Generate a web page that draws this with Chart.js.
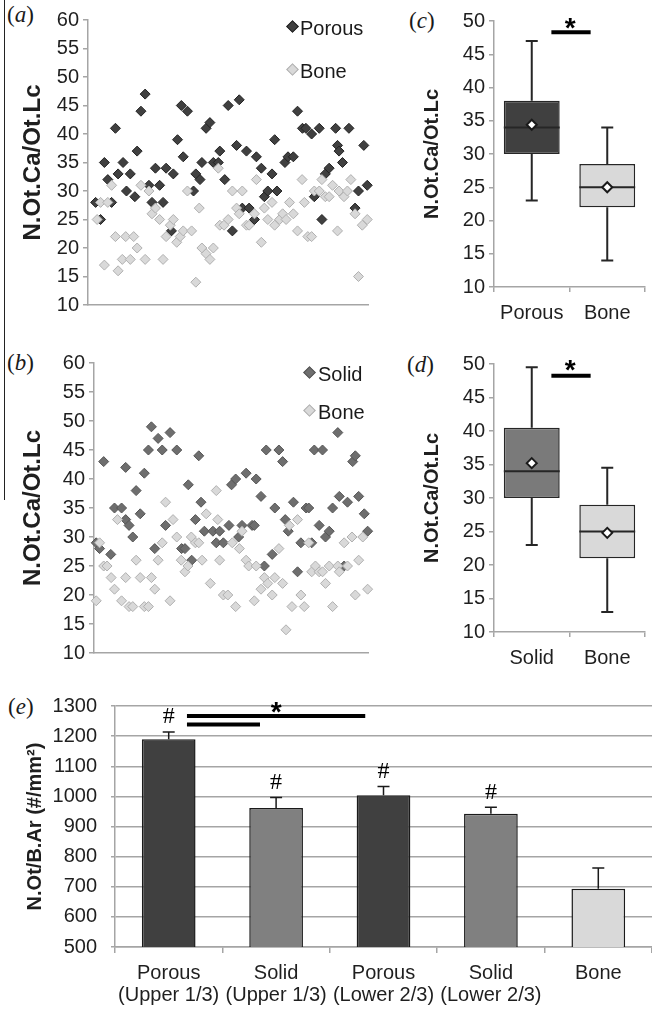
<!DOCTYPE html>
<html>
<head>
<meta charset="utf-8">
<script src="https://cdn.jsdelivr.net/npm/chart.js@4.4.0/dist/chart.umd.min.js"></script>
<style>
  body { margin: 0; background: #fff; width: 652px; height: 1012px; position: relative; overflow: hidden;
         font-family: "Liberation Sans", Arial, sans-serif; color: #1a1a1a; }
  .box { position: absolute; }
  .lab { position: absolute; font-family: "Liberation Serif", "Times New Roman", serif; font-size: 23px; line-height: 24px; }
  .leg { position: absolute; font-size: 20px; line-height: 24px; white-space: nowrap; }
  .dia { position: absolute; width: 7px; height: 7px; transform: rotate(45deg); border: 1px solid; }
  .vline { position: absolute; left: 4px; top: 0; width: 1px; height: 500px; background: #222; }
</style>
</head>
<body>
<div class="vline"></div>

<div class="lab" style="left:7px;top:3px">(<i>a</i>)</div>
<div class="lab" style="left:7px;top:351px">(<i>b</i>)</div>
<div class="lab" style="left:409px;top:9px">(<i>c</i>)</div>
<div class="lab" style="left:407px;top:353px">(<i>d</i>)</div>
<div class="lab" style="left:8px;top:695px">(<i>e</i>)</div>

<div class="box" style="left:14px;top:0;width:360px;height:321px"><canvas id="chartA"></canvas></div>
<div class="box" style="left:14px;top:343px;width:360px;height:326px"><canvas id="chartB"></canvas></div>
<div class="box" style="left:414px;top:1px;width:238px;height:323px"><canvas id="chartC"></canvas></div>
<div class="box" style="left:414px;top:344px;width:238px;height:325px"><canvas id="chartD"></canvas></div>
<div class="box" style="left:17px;top:680px;width:635px;height:326px"><canvas id="chartE"></canvas></div>

<div class="dia" style="left:288px;top:22px;background:#404040;border-color:#222"></div>
<div class="leg" style="left:300px;top:16px">Porous</div>
<div class="dia" style="left:288px;top:65px;background:#d9d9d9;border-color:#b0b0b0"></div>
<div class="leg" style="left:300px;top:59px">Bone</div>
<div class="dia" style="left:305px;top:368px;background:#6e6e6e;border-color:#555"></div>
<div class="leg" style="left:318px;top:362px">Solid</div>
<div class="dia" style="left:305px;top:406px;background:#d9d9d9;border-color:#b0b0b0"></div>
<div class="leg" style="left:318px;top:400px">Bone</div>

<script>
// (a) porous vs bone, sample position and value
const porousX = [2.0,3.3,4.3,5.2,6.2,7.2,7.9,9.2,10.1,11.1,12.3,12.9,13.9,15.0,16.0,16.8,17.7,18.8,19.7,20.5,21.9,22.4,23.5,24.5,25.0,26.1,27.7,28.3,29.4,29.9,31.0,32.0,32.9,34.2,34.6,35.9,36.8,37.9,39.0,39.7,40.5,41.6,42.3,43.7,44.2,45.5,46.3,47.2,48.3,49.0,49.6,51.7,52.5,53.9,55.0,56.3,57.2,58.7,59.4,60.7,61.4,62.3,63.3,65.0,65.5,65.9,66.8,68.5,70.1,71.0,72.4,73.3];
const porousY = [28,25,35,32,28,41,33,35,30,33,29,37,44,47,31,28,34,31,28,34,23,33,39,45,36,44,30,33,32,35,41,42,35,35,37,32,45,23,38,46,27,37,27,25,36,34,29,30,33,39,30,35,36,36,44,41,41,40,29,41,25,33,34,41,38,37,35,41,27,30,38,31];
const boneAX = [2.4,3.3,4.3,5.2,6.2,7.2,7.9,9.0,9.9,11.1,12.0,12.9,13.9,15.0,16.0,16.8,17.7,18.8,19.7,20.5,21.6,22.4,23.3,24.2,25.0,26.1,27.2,28.3,29.2,29.9,31.0,32.0,32.9,34.2,34.6,35.7,36.8,37.9,39.0,39.7,40.5,41.6,42.3,43.7,44.2,45.5,46.3,47.2,48.3,49.0,50.3,51.1,52.0,52.9,53.9,55.0,56.2,56.8,57.7,58.7,59.4,60.7,61.4,62.3,63.3,64.2,65.5,65.9,67.2,68.1,69.0,70.1,71.0,72.0,73.3];
const boneAY = [25,28,17,28,31,22,16,18,22,18,22,20,31,18,30,26,27,25,18,22,24,25,21,22,23,30,23,14,27,20,19,18,20,34,24,24,25,30,27,26,30,24,24,26,32,21,27,25,28,24,25,26,25,28,26,23,32,28,22,22,30,30,32,29,29,31,23,30,29,30,32,26,15,24,25];

// (b) solid vs bone
const solidX = [0.6,1.5,2.6,4.5,5.5,7.4,8.5,8.5,9.4,10.4,11.3,12.4,13.5,14.6,15.4,16.3,17.2,18.3,19.2,20.4,22.2,23.5,24.4,25.3,26.2,27.2,28.1,28.7,29.6,31.9,32.8,33.7,34.7,36.2,36.9,38.0,38.8,39.7,40.8,42.4,43.0,43.5,44.8,45.7,46.2,47.8,48.5,49.6,50.6,51.3,52.1,53.5,54.6,55.5,56.9,57.6,58.4,59.1,60.4,61.3,62.1,63.1,64.0,65.4,65.8,67.1,68.0,69.4,70.1,71.0,72.5,73.4];
const solidY = [29,28,43,27,35,35,42,33,32,30,38,34,41,45,49,28,47,45,32,48,45,28,28,39,26,33,44,36,31,31,29,31,29,32,39,40,30,32,41,32,32,40,37,25,45,27,35,45,43,33,31,36,24,29,35,35,29,45,32,45,30,31,35,48,37,25,36,43,44,37,34,31];
const boneBX = [0.6,1.5,2.6,3.5,4.6,5.5,6.3,7.4,8.5,9.4,10.4,11.3,12.4,13.5,14.6,15.4,16.3,17.2,18.3,19.2,20.4,21.2,22.2,23.4,24.4,25.2,26.1,27.2,28.1,29.0,30.1,31.2,32.8,33.2,33.7,34.7,35.9,37.1,38.0,39.0,39.7,40.8,41.5,43.0,43.5,44.8,45.7,46.6,47.8,48.5,49.6,50.6,51.5,52.4,53.1,54.6,55.5,56.4,57.6,58.4,59.4,60.4,61.3,62.1,63.1,64.0,65.4,65.8,67.1,68.0,69.2,70.1,71.0,72.1,73.4];
const boneBY = [19,29,25,25,23,21,33,19,23,18,18,26,23,18,18,23,21,26,29,36,19,33,30,26,24,25,30,29,29,26,34,22,38,33,26,20,20,29,18,28,31,26,25,19,25,21,23,22,20,23,28,22,14,32,18,33,20,18,29,24,25,24,24,22,25,18,25,24,29,25,30,20,26,30,21];

// (c) box plot porous / bone
const boxCatsC = ['Porous', 'Bone'];
const boxMinC = [23, 14];
const boxQ1C = [30, 22];
const boxMedC = [34, 25];
const boxQ3C = [38, 28.5];
const boxMaxC = [47, 34];
const boxMeanC = [34.4, 25];

// (d) box plot solid / bone
const boxCatsD = ['Solid', 'Bone'];
const boxMinD = [23, 13];
const boxQ1D = [30, 21];
const boxMedD = [34, 25];
const boxQ3D = [40.5, 29];
const boxMaxD = [49.5, 34.5];
const boxMeanD = [35.2, 24.8];

// (e) bar chart
const barCats = [['Porous', '(Upper 1/3)'], ['Solid', '(Upper 1/3)'], ['Porous', '(Lower 2/3)'], ['Solid', '(Lower 2/3)'], 'Bone'];
const barMeans = [1190, 961, 1004, 942, 693];
const barErr = [24, 35, 29, 22, 69];
const barHash = [true, true, true, true, false];

// significance bars: [from index, to index, value]
const sigC = [[0.26, 0.78, 48.3]];
const sigD = [[0.26, 0.78, 48.25]];
const sigE = [[0.17, 1.83, 1267], [0.17, 0.85, 1239]];
const starC = [0.51, 49.85];
const starD = [0.51, 50];
const starE = [1.0, 1300];

const axisGrey = '#a5a5a5';
const txt = '#1f1f1f';
Chart.defaults.font.family = '"Liberation Sans", Arial, sans-serif';
Chart.defaults.color = txt;

function pts(xs, ys) {
  return xs.map((x, i) => ({ x: x, y: ys[i] }));
}

function drawSig(chart, lines, star) {
  const { ctx, scales: { x, y } } = chart;
  ctx.save();
  ctx.strokeStyle = '#000';
  ctx.lineWidth = 4;
  lines.forEach(l => {
    ctx.beginPath();
    ctx.moveTo(x.getPixelForValue(l[0]), y.getPixelForValue(l[2]));
    ctx.lineTo(x.getPixelForValue(l[1]), y.getPixelForValue(l[2]));
    ctx.stroke();
  });
  ctx.fillStyle = '#000';
  ctx.font = 'bold 28px "Liberation Sans", Arial, sans-serif';
  ctx.textAlign = 'center';
  ctx.textBaseline = 'alphabetic';
  ctx.fillText('*', x.getPixelForValue(star[0]), y.getPixelForValue(star[1]) + 15);
  ctx.restore();
}

function scatterChart(id, sets, yWidth) {
  return new Chart(document.getElementById(id), {
    type: 'scatter',
    data: { datasets: sets },
    options: {
      animation: false,
      responsive: true,
      maintainAspectRatio: false,
      layout: { padding: { top: 20, right: 6 } },
      plugins: { legend: { display: false }, tooltip: { enabled: false } },
      scales: {
        x: {
          type: 'linear', min: 0, max: 73.5,
          ticks: { display: false },
          grid: { display: false },
          border: { color: axisGrey, width: 1.5 },
          afterFit: s => { s.height = 14; }
        },
        y: {
          min: 10, max: 60,
          ticks: { stepSize: 5, font: { size: 20 }, padding: 4 },
          grid: { drawOnChartArea: false, tickLength: 5, color: axisGrey, lineWidth: 1.5 },
          border: { color: axisGrey, width: 1.5 },
          title: { display: true, text: 'N.Ot.Ca/Ot.Lc', font: { size: 24, weight: 'bold' }, padding: { top: 5, bottom: 0 } },
          afterFit: s => { s.width = yWidth; }
        }
      }
    }
  });
}

function diamondSet(data, fill, edge, order) {
  return {
    data: data, order: order, clip: false,
    pointStyle: 'rectRot', pointRadius: 5, pointHoverRadius: 5,
    backgroundColor: fill, borderColor: edge, borderWidth: 1
  };
}

scatterChart('chartA', [
  diamondSet(pts(porousX, porousY), '#404040', '#222', 1),
  diamondSet(pts(boneAX, boneAY), '#d9d9d9', '#b0b0b0', 0)
], 74);

scatterChart('chartB', [
  diamondSet(pts(solidX, solidY), '#6e6e6e', '#555', 1),
  diamondSet(pts(boneBX, boneBY), '#d9d9d9', '#b0b0b0', 0)
], 80);

function boxChart(id, cats, mins, q1, med, q3, maxs, means, fills, sig, star) {
  const boxParts = {
    id: 'boxParts',
    afterDatasetDraw(chart, args) {
      if (args.index !== 0) return;
      const { ctx, scales: { x, y } } = chart;
      const meta = chart.getDatasetMeta(0);
      ctx.save();
      ctx.strokeStyle = '#262626';
      ctx.lineWidth = 2;
      cats.forEach((c, i) => {
        const cx = x.getPixelForValue(i);
        const half = meta.data[i].width / 2;
        ctx.beginPath();
        ctx.moveTo(cx, y.getPixelForValue(q1[i]));
        ctx.lineTo(cx, y.getPixelForValue(mins[i]));
        ctx.moveTo(cx - 6, y.getPixelForValue(mins[i]));
        ctx.lineTo(cx + 6, y.getPixelForValue(mins[i]));
        ctx.moveTo(cx, y.getPixelForValue(q3[i]));
        ctx.lineTo(cx, y.getPixelForValue(maxs[i]));
        ctx.moveTo(cx - 6, y.getPixelForValue(maxs[i]));
        ctx.lineTo(cx + 6, y.getPixelForValue(maxs[i]));
        ctx.moveTo(cx - half, y.getPixelForValue(med[i]));
        ctx.lineTo(cx + half, y.getPixelForValue(med[i]));
        ctx.stroke();
      });
      ctx.restore();
    },
    afterDraw(chart) { drawSig(chart, sig, star); }
  };
  return new Chart(document.getElementById(id), {
    type: 'bar',
    data: {
      labels: cats,
      datasets: [
        {
          data: q1.map((v, i) => [v, q3[i]]), order: 1,
          backgroundColor: fills, borderColor: '#262626', borderWidth: 1.5, borderSkipped: false,
          barPercentage: 0.74, categoryPercentage: 1
        },
        {
          type: 'line', data: means, order: 0, showLine: false,
          pointStyle: 'rectRot', pointRadius: 5, pointHoverRadius: 5,
          backgroundColor: '#fff', borderColor: '#1a1a1a', borderWidth: 2
        }
      ]
    },
    options: {
      animation: false,
      responsive: true,
      maintainAspectRatio: false,
      layout: { padding: { top: 20, right: 2 } },
      plugins: { legend: { display: false }, tooltip: { enabled: false } },
      scales: {
        x: {
          ticks: { font: { size: 20 }, padding: 9 },
          grid: { drawOnChartArea: false, offset: true, tickLength: 5, color: axisGrey, lineWidth: 1.5 },
          border: { color: axisGrey, width: 1.5 },
          afterFit: s => { s.height = 37; }
        },
        y: {
          min: 10, max: 50,
          ticks: { stepSize: 5, font: { size: 20 }, padding: 4 },
          grid: { drawOnChartArea: false, tickLength: 5, color: axisGrey, lineWidth: 1.5 },
          border: { color: axisGrey, width: 1.5 },
          title: { display: true, text: 'N.Ot.Ca/Ot.Lc', font: { size: 20, weight: 'bold' }, padding: { top: 6, bottom: 0 } },
          afterFit: s => { s.width = 80; }
        }
      }
    },
    plugins: [boxParts]
  });
}

boxChart('chartC', boxCatsC, boxMinC, boxQ1C, boxMedC, boxQ3C, boxMaxC, boxMeanC, ['#404040', '#d9d9d9'], sigC, starC);
boxChart('chartD', boxCatsD, boxMinD, boxQ1D, boxMedD, boxQ3D, boxMaxD, boxMeanD, ['#7a7a7a', '#d9d9d9'], sigD, starD);

const barExtras = {
  id: 'barExtras',
  afterDatasetsDraw(chart) {
    const { ctx, scales: { x, y } } = chart;
    ctx.save();
    ctx.strokeStyle = '#1a1a1a';
    ctx.lineWidth = 1.5;
    ctx.fillStyle = '#000';
    ctx.font = '24px "Liberation Serif", "Times New Roman", serif';
    ctx.textAlign = 'center';
    ctx.textBaseline = 'middle';
    barMeans.forEach((m, i) => {
      const cx = x.getPixelForValue(i);
      const top = y.getPixelForValue(m + barErr[i]);
      ctx.beginPath();
      ctx.moveTo(cx, y.getPixelForValue(m));
      ctx.lineTo(cx, top);
      ctx.moveTo(cx - 6, top);
      ctx.lineTo(cx + 6, top);
      ctx.stroke();
      if (barHash[i]) ctx.fillText('#', cx, top - 15);
    });
    ctx.restore();
    drawSig(chart, sigE, starE);
  }
};

new Chart(document.getElementById('chartE'), {
  type: 'bar',
  data: {
    labels: barCats,
    datasets: [{
      data: barMeans,
      backgroundColor: ['#404040', '#808080', '#404040', '#808080', '#d9d9d9'],
      borderColor: '#1a1a1a', borderWidth: 1.5,
      barPercentage: 0.5, categoryPercentage: 1
    }]
  },
  options: {
    animation: false,
    responsive: true,
    maintainAspectRatio: false,
    layout: { padding: { top: 20, right: 0 } },
    plugins: { legend: { display: false }, tooltip: { enabled: false } },
    scales: {
      x: {
        ticks: { font: { size: 20, lineHeight: 1.1 }, padding: 9, maxRotation: 0, autoSkip: false },
        grid: { drawOnChartArea: false, offset: true, tickLength: 6, color: axisGrey, lineWidth: 1.5 },
        border: { color: axisGrey, width: 1.5 },
        afterFit: s => { s.height = 59; }
      },
      y: {
        min: 500, max: 1300,
        ticks: { stepSize: 100, font: { size: 20 }, padding: 14, format: { useGrouping: false } },
        grid: { tickLength: 4, color: axisGrey, lineWidth: 1.5 },
        border: { color: axisGrey, width: 1.5 },
        title: { display: true, text: 'N.Ot/B.Ar (#/mm²)', font: { size: 20, weight: 'bold' }, padding: { top: 6, bottom: 0 } },
        afterFit: s => { s.width = 98; }
      }
    }
  },
  plugins: [barExtras]
});
</script>
</body>
</html>
